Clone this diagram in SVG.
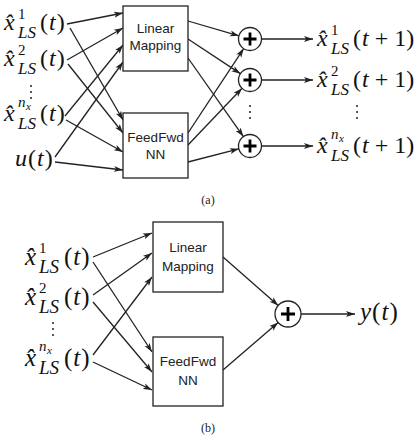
<svg xmlns="http://www.w3.org/2000/svg" width="420" height="440" viewBox="0 0 420 440">
<style>
.bg{fill:#fff}
.box{fill:#fff;stroke:#222;stroke-width:1.3}
.sum{fill:#fff;stroke:#222;stroke-width:1.3}
.plus{stroke:#000;stroke-width:2.8;fill:none}
.bt{font-family:"Liberation Sans",Arial,sans-serif;font-size:13.5px;fill:#222;text-anchor:middle}
.m{font-family:"Liberation Serif","Times New Roman",serif;font-style:italic;font-size:24px;fill:#111}
.mb{font-family:"Liberation Serif","Times New Roman",serif;font-style:italic;font-size:25px;fill:#111}
.up{font-style:normal}
.sp{font-size:15px;font-style:normal}
.sb{font-size:17px}
.sb2{font-size:19px}
.sn{font-size:15px}
.sx{font-size:11px}
.dot{fill:#222}
.cap{font-family:"Liberation Serif","Times New Roman",serif;font-size:12px;fill:#222;text-anchor:middle}
.c{stroke:#222;stroke-width:1.3;fill:none;marker-end:url(#ah)}
</style>
<defs>
<marker id="ah" markerUnits="userSpaceOnUse" markerWidth="10" markerHeight="7" refX="9" refY="3.5" orient="auto">
<path d="M0,0.5 L9,3.5 L0,6.5 L2.2,3.5 z" fill="#222"/>
</marker>
<g id="vd"><circle cx="0" cy="0" r="1"/><circle cx="0" cy="6" r="1"/><circle cx="0" cy="12" r="1"/></g>
</defs>
<rect class="bg" x="0" y="0" width="420" height="440"/>

<g id="connectors">
<!-- (a) inputs -->
<path class="c" d="M67,24 L123,13"/>
<path class="c" d="M70,28 L123,120"/>
<path class="c" d="M67,60 L123,28"/>
<path class="c" d="M68,64 L123,133"/>
<path class="c" d="M65,116 L123,45"/>
<path class="c" d="M66,120 L123,152"/>
<path class="c" d="M55,157 L123,62"/>
<path class="c" d="M55,162 L123,170"/>
<!-- (a) boxes to sums -->
<path class="c" d="M188,21 L238.96,35.79"/>
<path class="c" d="M188,39 L240.41,73.65"/>
<path class="c" d="M188,58 L243.38,136.60"/>
<path class="c" d="M188,133 L243.67,48.60"/>
<path class="c" d="M188,145 L242.06,88.32"/>
<path class="c" d="M188,162 L238.87,148.87"/>
<!-- (a) outputs -->
<path class="c" d="M261.5,39 L313,39"/>
<path class="c" d="M261.5,80 L313,80"/>
<path class="c" d="M261.5,146 L313,146"/>
<!-- (b) inputs -->
<path class="c" d="M93,257 L152,233"/>
<path class="c" d="M93,262 L152,352"/>
<path class="c" d="M93,295 L152,253"/>
<path class="c" d="M93,302 L152,372"/>
<path class="c" d="M93,355 L152,277"/>
<path class="c" d="M93,362 L152,390"/>
<!-- (b) boxes to sum -->
<path class="c" d="M223,257 L278.22,305.43"/>
<path class="c" d="M223,370 L278.15,322.49"/>
<path class="c" d="M301,314 L355,314"/>
</g>

<!-- (a) -->
<g id="a-lin"><rect class="box" x="123" y="6" width="65" height="65"/><text class="bt" x="155.5" y="33">Linear</text><text class="bt" x="155.5" y="50">Mapping</text></g>
<g id="a-nn"><rect class="box" x="123" y="113" width="65" height="65"/><text class="bt" x="155.5" y="142">FeedFwd</text><text class="bt" x="155.5" y="159">NN</text></g>
<g id="a-s1"><circle class="sum" cx="250" cy="39" r="11.5"/><path class="plus" d="M243.5,39 H256.5 M250,32.5 V45.5"/></g>
<g id="a-s2"><circle class="sum" cx="250" cy="80" r="11.5"/><path class="plus" d="M243.5,80 H256.5 M250,73.5 V86.5"/></g>
<g id="a-s3"><circle class="sum" cx="250" cy="146" r="11.5"/><path class="plus" d="M243.5,146 H256.5 M250,139.5 V152.5"/></g>
<g id="a-sd" class="dot"><use href="#vd" x="250" y="106"/></g>

<g id="a-in1"><text class="m" y="30"><tspan x="4">x̂</tspan><tspan class="sp" x="18" y="19">1</tspan><tspan class="sb" x="18" y="38">LS</tspan><tspan class="up" x="40" y="30">(</tspan><tspan dx="1">t</tspan><tspan class="up" dx="1">)</tspan></text></g>
<g id="a-in2"><text class="m" y="66"><tspan x="4">x̂</tspan><tspan class="sp" x="18" y="55">2</tspan><tspan class="sb" x="18" y="74">LS</tspan><tspan class="up" x="40" y="66">(</tspan><tspan dx="1">t</tspan><tspan class="up" dx="1">)</tspan></text></g>
<g id="a-ind" class="dot"><use href="#vd" x="31" y="86"/></g>
<g id="a-inn"><text class="m" y="121"><tspan x="4">x̂</tspan><tspan class="sn" x="18" y="107">n</tspan><tspan class="sx" x="26" y="110">x</tspan><tspan class="sb" x="18" y="129">LS</tspan><tspan class="up" x="40" y="121">(</tspan><tspan dx="1">t</tspan><tspan class="up" dx="1">)</tspan></text></g>
<g id="a-u"><text class="m" y="166"><tspan x="15">u</tspan><tspan class="up" dx="1">(</tspan><tspan dx="1">t</tspan><tspan class="up" dx="1">)</tspan></text></g>

<g id="a-out1"><text class="m" y="46"><tspan x="317">x̂</tspan><tspan class="sp" x="331" y="35">1</tspan><tspan class="sb" x="331" y="54">LS</tspan><tspan class="up" x="353" y="46">(</tspan><tspan dx="1">t</tspan><tspan class="up"> + 1)</tspan></text></g>
<g id="a-out2"><text class="m" y="87"><tspan x="317">x̂</tspan><tspan class="sp" x="331" y="76">2</tspan><tspan class="sb" x="331" y="95">LS</tspan><tspan class="up" x="353" y="87">(</tspan><tspan dx="1">t</tspan><tspan class="up"> + 1)</tspan></text></g>
<g id="a-outd" class="dot"><use href="#vd" x="357" y="106"/></g>
<g id="a-outn"><text class="m" y="153"><tspan x="317">x̂</tspan><tspan class="sn" x="331" y="139">n</tspan><tspan class="sx" x="339" y="142">x</tspan><tspan class="sb" x="331" y="161">LS</tspan><tspan class="up" x="353" y="153">(</tspan><tspan dx="1">t</tspan><tspan class="up"> + 1)</tspan></text></g>

<text class="cap" x="208" y="204">(a)</text>

<!-- (b) -->
<g id="b-lin"><rect class="box" x="153" y="222" width="70" height="70"/><text class="bt" x="188" y="252">Linear</text><text class="bt" x="188" y="271">Mapping</text></g>
<g id="b-nn"><rect class="box" x="153" y="337" width="70" height="69"/><text class="bt" x="188" y="366">FeedFwd</text><text class="bt" x="188" y="385">NN</text></g>
<g id="b-s"><circle class="sum" cx="288" cy="314" r="13"/><path class="plus" d="M281,314 H295 M288,307 V321"/></g>

<g id="b-in1"><text class="mb" y="265"><tspan x="25">x̂</tspan><tspan class="sp" x="39" y="253">1</tspan><tspan class="sb2" x="39" y="273">LS</tspan><tspan class="up" x="64" y="265">(</tspan><tspan dx="1">t</tspan><tspan class="up" dx="1">)</tspan></text></g>
<g id="b-in2"><text class="mb" y="305"><tspan x="25">x̂</tspan><tspan class="sp" x="39" y="293">2</tspan><tspan class="sb2" x="39" y="313">LS</tspan><tspan class="up" x="64" y="305">(</tspan><tspan dx="1">t</tspan><tspan class="up" dx="1">)</tspan></text></g>
<g id="b-ind" class="dot"><use href="#vd" x="53" y="323"/></g>
<g id="b-inn"><text class="mb" y="366"><tspan x="25">x̂</tspan><tspan class="sn" x="39" y="351">n</tspan><tspan class="sx" x="47" y="354">x</tspan><tspan class="sb2" x="39" y="374">LS</tspan><tspan class="up" x="64" y="366">(</tspan><tspan dx="1">t</tspan><tspan class="up" dx="1">)</tspan></text></g>
<g id="b-y"><text class="mb" y="320"><tspan x="360">y</tspan><tspan class="up" dx="1">(</tspan><tspan dx="1">t</tspan><tspan class="up" dx="1">)</tspan></text></g>

<text class="cap" x="208" y="432">(b)</text>
</svg>
